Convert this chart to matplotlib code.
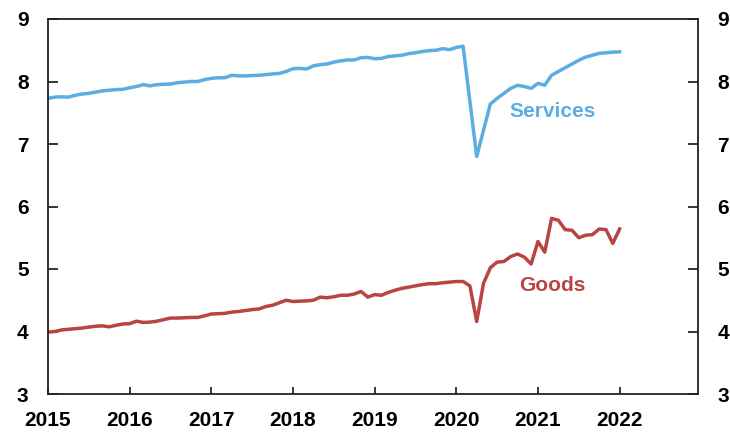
import numpy as np
import matplotlib.pyplot as plt

# monthly values, Jan 2015 .. Jan 2022
start_year = 2015
services = [
    7.73, 7.75, 7.755, 7.75, 7.78, 7.80, 7.81, 7.83, 7.85, 7.86, 7.87, 7.875,
    7.90, 7.92, 7.95, 7.93, 7.95, 7.955, 7.96, 7.98, 7.99, 8.00, 8.00, 8.03,
    8.05, 8.06, 8.06, 8.10, 8.09, 8.09, 8.095, 8.10, 8.11, 8.12, 8.13, 8.16,
    8.205, 8.21, 8.20, 8.25, 8.27, 8.28, 8.31, 8.33, 8.345, 8.345, 8.38, 8.385,
    8.365, 8.37, 8.40, 8.41, 8.42, 8.445, 8.46, 8.48, 8.495, 8.50, 8.525, 8.51,
    8.545, 8.565, 7.68, 6.80, 7.22, 7.64, 7.73, 7.81, 7.89, 7.94, 7.92, 7.89,
    7.97, 7.94, 8.10, 8.16, 8.22, 8.28, 8.34, 8.39, 8.42, 8.45, 8.46, 8.47, 8.475,
]
goods = [
    3.99, 4.00, 4.025, 4.035, 4.045, 4.055, 4.07, 4.085, 4.09, 4.075, 4.10, 4.12,
    4.125, 4.165, 4.145, 4.15, 4.165, 4.19, 4.215, 4.215, 4.22, 4.225, 4.225, 4.25,
    4.28, 4.285, 4.29, 4.31, 4.32, 4.335, 4.35, 4.36, 4.40, 4.42, 4.46, 4.50,
    4.48, 4.485, 4.49, 4.50, 4.55, 4.54, 4.555, 4.58, 4.58, 4.60, 4.64, 4.55,
    4.59, 4.58, 4.625, 4.66, 4.69, 4.71, 4.73, 4.75, 4.765, 4.765, 4.78, 4.79,
    4.80, 4.80, 4.73, 4.16, 4.77, 5.02, 5.11, 5.12, 5.20, 5.24, 5.19, 5.08,
    5.44, 5.27, 5.81, 5.78, 5.63, 5.62, 5.50, 5.54, 5.55, 5.64, 5.63, 5.41, 5.64,
]
year_ticks = list(range(2015, 2023))
y_ticks = [3, 4, 5, 6, 7, 8, 9]

SERVICES_COL = "#5dade2"
GOODS_COL = "#b84541"

plt.rcParams['font.family'] = ['Liberation Sans', 'DejaVu Sans']

x = start_year + np.arange(len(services)) / 12.0

fig = plt.figure(figsize=(7.3, 4.32), dpi=100)
ax = fig.add_axes([48 / 730, 1 - 394 / 432, 650 / 730, 375 / 432])

ax.plot(x, services, color=SERVICES_COL, lw=2.5, solid_joinstyle='round')
ax.plot(x, goods, color=GOODS_COL, lw=2.5, solid_joinstyle='round')

ax.text(2021.18, 7.52, "Services", color=SERVICES_COL, fontsize=15,
        fontweight='bold', ha='center', va='center')
ax.text(2021.18, 4.73, "Goods", color=GOODS_COL, fontsize=15,
        fontweight='bold', ha='center', va='center')

ax.set_xlim(2015, 2022.96)
ax.set_ylim(3, 9)
ax.set_xticks(year_ticks)
ax.set_xticklabels([str(y) for y in year_ticks])
ax.set_yticks(y_ticks)

for s in ax.spines.values():
    s.set_linewidth(1.3)
    s.set_color("#222222")

ax.tick_params(axis='x', direction='in', length=5, width=1.1, pad=12,
               labelsize=15)
ax.tick_params(axis='y', direction='in', length=7, width=1.1, pad=14,
               labelsize=15, left=True, right=True,
               labelleft=True, labelright=True)
for lab in ax.get_xticklabels() + ax.get_yticklabels():
    lab.set_fontweight('bold')

fig.savefig("out.png", dpi=100)
